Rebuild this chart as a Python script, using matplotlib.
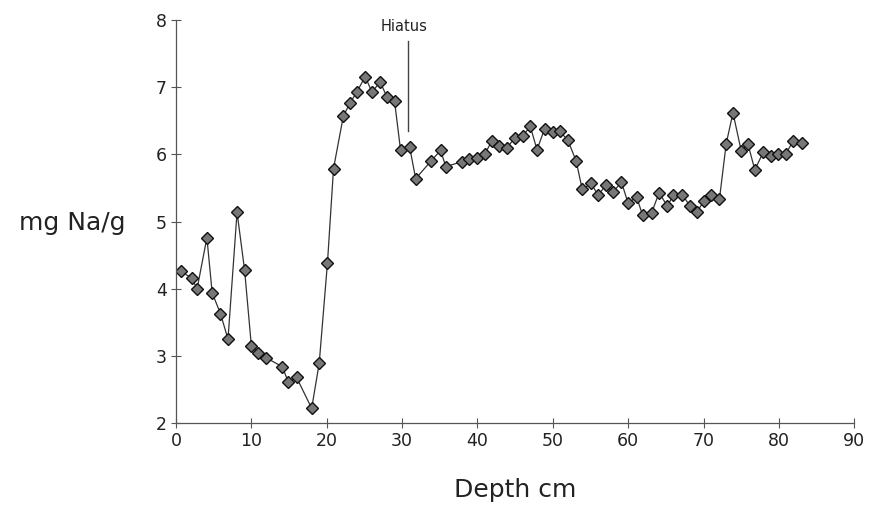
import matplotlib
matplotlib.use("Agg")
import matplotlib.pyplot as plt

depth = [0.6, 2.1, 2.8, 4.1, 4.8, 5.9, 6.9, 8.1, 9.1, 10.0, 10.9, 12.0, 14.1, 14.9, 16.0,
         18.0, 19.0, 20.1, 20.9, 22.2, 23.1, 24.0, 25.1, 26.0, 27.1, 28.0, 29.0, 29.8,
         31.0, 31.8, 33.9, 35.1, 35.8, 37.9, 38.9, 39.9, 41.0, 41.9, 42.9, 43.9, 45.0,
         46.0, 47.0, 47.9, 48.9, 50.0, 50.9, 52.0, 53.1, 53.9, 55.1, 56.0, 57.0, 58.0,
         59.1, 60.0, 61.1, 61.9, 63.1, 64.1, 65.2, 66.0, 67.2, 68.2, 69.1, 70.0, 71.0,
         72.1, 73.0, 73.9, 75.0, 75.9, 76.8, 77.9, 78.9, 79.9, 80.9, 81.9, 83.0]
na = [4.26, 4.16, 4.00, 4.76, 3.94, 3.63, 3.25, 5.14, 4.28, 3.15, 3.04, 2.97, 2.84, 2.61, 2.68,
      2.22, 2.89, 4.39, 5.79, 6.57, 6.77, 6.93, 7.16, 6.93, 7.08, 6.85, 6.79, 6.06,
      6.11, 5.64, 5.91, 6.06, 5.82, 5.89, 5.93, 5.95, 6.01, 6.20, 6.13, 6.10, 6.25,
      6.27, 6.42, 6.07, 6.38, 6.33, 6.35, 6.21, 5.90, 5.48, 5.57, 5.39, 5.54, 5.44,
      5.59, 5.27, 5.37, 5.10, 5.13, 5.43, 5.23, 5.40, 5.40, 5.23, 5.14, 5.30, 5.39,
      5.33, 6.16, 6.62, 6.05, 6.15, 5.77, 6.03, 5.97, 6.00, 6.01, 6.20, 6.17]

xticks = [0, 10, 20, 30, 40, 50, 60, 70, 80, 90]
yticks = [2, 3, 4, 5, 6, 7, 8]
hiatus_x = 30.8
hiatus_y = (6.35, 7.69)

plt.rcParams['font.family'] = ['DejaVu Sans']
fig = plt.figure(figsize=(8.73, 5.16), dpi=100)
ax = fig.add_axes([0.2016, 0.180, 0.777, 0.781])

ax.plot(depth, na, color='#333333', lw=0.9, marker='D', ms=6,
        markerfacecolor='#777777', markeredgecolor='#111111', markeredgewidth=1.0)

ax.plot([hiatus_x, hiatus_x], hiatus_y, color='#444444', lw=1.0)
ax.text(hiatus_x - 0.5, 7.79, 'Hiatus', ha='center', va='bottom', fontsize=10.5, color='#222222')

ax.set_xlim(0, 90)
ax.set_ylim(2, 8)
ax.set_xticks(xticks)
ax.set_yticks(yticks)
for s in ['top', 'right']:
    ax.spines[s].set_visible(False)
for s in ['left', 'bottom']:
    ax.spines[s].set_color('#555555')
    ax.spines[s].set_linewidth(0.9)
ax.tick_params(direction='inout', length=7, width=0.8, colors='#555555',
               labelsize=12.5, labelcolor='#222222', pad=3)

ax.set_xlabel('Depth cm', fontsize=18, color='#222222', labelpad=20)
fig.text(0.083, 0.568, 'mg Na/g', fontsize=18, color='#222222', ha='center', va='center')

fig.savefig('out.png', dpi=100)
